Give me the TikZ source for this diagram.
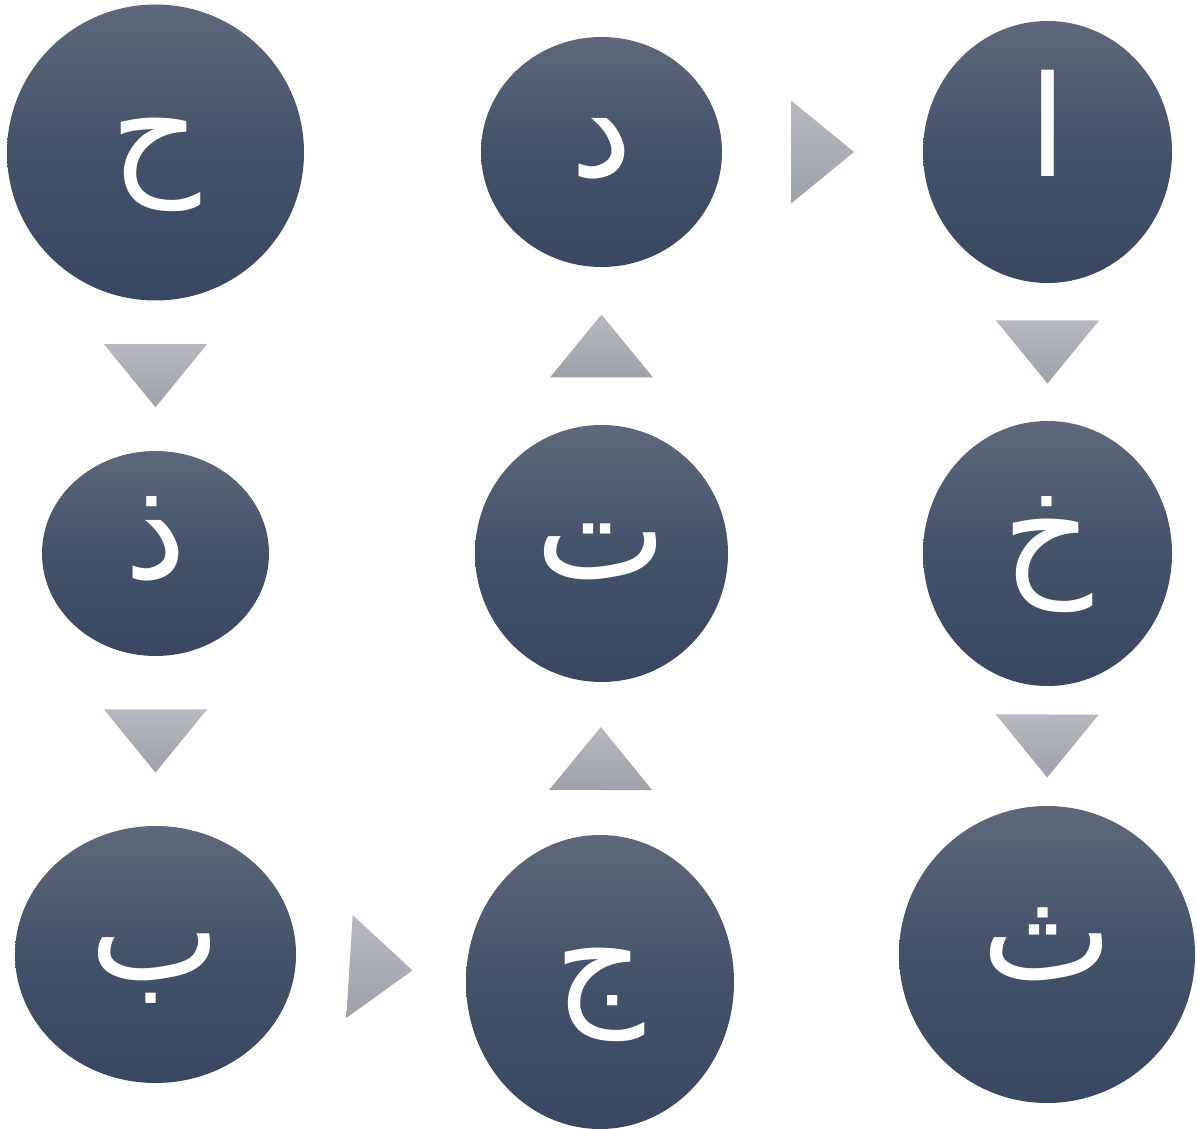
\documentclass[tikz,border=0pt]{standalone}
\usepackage{fontspec}
\newfontfamily\arabicfont[Script=Arabic]{DejaVu Sans}
\TeXXeTstate=1
\usetikzlibrary{calc, shapes.geometric}

\definecolor{bubbletop}{RGB}{94,104,121}
\definecolor{bubblemid}{RGB}{67,81,105}
\definecolor{bubblebot}{RGB}{57,71,97}
\definecolor{tritop}{RGB}{182,185,191}
\definecolor{tribot}{RGB}{157,161,169}

\begin{document}
\begin{tikzpicture}[
    x=1pt, y=1pt,
    letter/.style={
        ellipse,
        inner sep=0pt,
        top color=bubbletop,
        bottom color=bubblebot,
        middle color=bubblemid,
        text=white,
        font=\arabicfont\fontsize{140}{150}\selectfont,
        text height=80pt,
        text depth=30pt
    },
    tri/.style={
        top color=tritop,
        bottom color=tribot
    }
]
\useasboundingbox (0,0) rectangle (1197,1128);

\node[letter, minimum width=297pt, minimum height=296pt] (ha) at (155.5,975.5)
{\beginR ح\endR};

\node[letter, minimum width=227pt, minimum height=205pt] (dhal) at (155.5,574.5)
{\beginR ذ\endR};

\node[letter, minimum width=281pt, minimum height=257pt] (ba) at (155.5,173.5)
{\beginR ب\endR};

\node[letter, minimum width=268pt, minimum height=294pt] (jim) at (600,146)
{\beginR ج\endR};

\node[letter, minimum width=253pt, minimum height=257pt] (ta) at (601.5,574.5)
{\beginR ت\endR};

\node[letter, minimum width=241pt, minimum height=230pt] (dal) at (601.5,976)
{\beginR د\endR};

\node[letter, minimum width=249pt, minimum height=262pt] (alif) at (1047.5,976)
{\beginR ا\endR};

\node[letter, minimum width=249pt, minimum height=265pt] (kha) at (1047.5,574.5)
{\beginR خ\endR};

\node[letter, minimum width=296pt, minimum height=297pt] (tha) at (1047,173.5)
{\beginR ث\endR};

% block arrows halfway between the borders
\foreach \a/\b in {ha/dhal, dhal/ba, ba/jim, jim/ta, ta/dal, dal/alif, alif/kha, kha/tha} {
    \path (\a) -- coordinate (m) (\b);
    \coordinate (tip) at ($(m)!31.5pt!(\b)$);
    \coordinate (base) at ($(m)!-31.5pt!(\b)$);
    \shade[tri] (tip) -- ($(base)!51.5pt!90:(m)$) -- ($(base)!51.5pt!-90:(m)$) -- cycle;
}
\end{tikzpicture}
\end{document}
